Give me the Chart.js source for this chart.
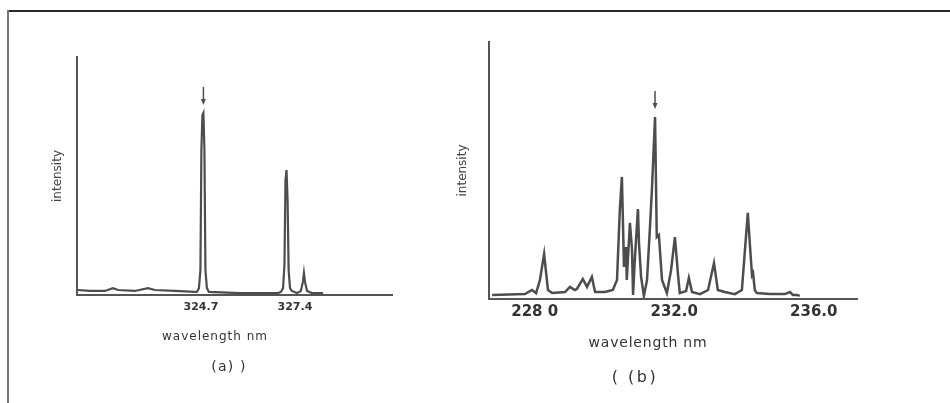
<!DOCTYPE html>
<html>
<head>
<meta charset="utf-8">
<script src="https://cdn.jsdelivr.net/npm/chart.js@4.4.0/dist/chart.umd.min.js"></script>
<style>
  body { margin: 0; background: #fff; }
  #page { position: relative; width: 950px; height: 403px; overflow: hidden; background: #fff; }
  .rule-top { position: absolute; left: 7px; top: 10px; width: 943px; height: 2px; background: #2a2a2a; }
  .rule-left { position: absolute; left: 7px; top: 10px; width: 2px; height: 393px; background: #777; }
  canvas { position: absolute; top: 0; }
  #specA { left: 0; }
  #specB { left: 430px; }
</style>
</head>
<body>
<div id="page">
  <div class="rule-top"></div>
  <div class="rule-left"></div>
  <canvas id="specA" width="430" height="403"></canvas>
  <canvas id="specB" width="520" height="403"></canvas>
</div>
<script>
// (a) copper lines, nm / relative intensity
const wavelengthA = [321.17, 321.51, 321.94, 322.17, 322.32, 322.80, 323.18, 323.38, 323.95, 324.53,
  324.585, 324.643, 324.686, 324.714, 324.743, 324.772, 324.801, 324.830, 324.872, 324.930,
  325.82, 326.91, 327.00, 327.06, 327.10, 327.13, 327.16, 327.19, 327.22, 327.26,
  327.31, 327.46, 327.57, 327.63, 327.66, 327.69, 327.75, 327.89, 328.21];
const intensityA = [2.1, 1.7, 1.7, 2.9, 2.1, 1.7, 2.9, 2.1, 1.7, 1.3,
  1.3, 2.9, 10.5, 60.9, 75.6, 76.5, 60.9, 10.5, 2.9, 1.3,
  0.8, 0.8, 1.3, 2.9, 12.6, 48.3, 52.5, 39.9, 10.5, 2.9,
  1.7, 0.8, 1.7, 5.5, 9.2, 5.5, 1.7, 0.8, 0.8];
const ticksA = [324.7, 327.4];

// (b) nickel region
const wavelengthB = [226.78, 227.72, 227.92, 228.04, 228.15, 228.27, 228.38, 228.50, 228.87, 229.01,
  229.15, 229.21, 229.38, 229.50, 229.64, 229.73, 230.01, 230.24, 230.36, 230.44,
  230.50, 230.56, 230.62, 230.64, 230.73, 230.79, 230.82, 230.87, 230.96, 230.99,
  231.05, 231.13, 231.22, 231.30, 231.36, 231.45, 231.50, 231.56, 231.65, 231.79,
  231.91, 232.02, 232.11, 232.16, 232.34, 232.42, 232.51, 232.74, 232.97, 233.14,
  233.25, 233.45, 233.74, 233.94, 234.05, 234.11, 234.17, 234.23, 234.26, 234.31,
  234.37, 234.74, 235.17, 235.32, 235.40, 235.52, 235.60];
const intensityB = [1.6, 1.9, 3.5, 2.3, 7.4, 17.5, 3.5, 2.3, 2.7, 4.7,
  3.5, 3.9, 7.8, 4.7, 8.6, 2.7, 2.7, 3.5, 7.4, 34.6,
  47.5, 12.5, 20.2, 7.4, 29.6, 19.1, 1.6, 15.2, 35.0, 21.8,
  8.6, 1.2, 7.4, 26.8, 42.4, 70.8, 24.1, 24.9, 7.4, 2.3,
  11.3, 24.1, 9.3, 2.3, 3.1, 8.2, 2.7, 1.9, 3.5, 14.0,
  3.5, 2.7, 1.9, 3.5, 23.0, 33.5, 21.0, 9.3, 10.1, 3.5,
  2.3, 1.9, 1.9, 2.7, 1.6, 1.6, 1.2];
const ticksB = [228, 232, 236];
const tickLabelsB = ['228 0', '232.0', '236.0'];

const lineColor = '#4d4d4d';
const axisColor = '#555';

function toPoints(xs, ys) {
  return xs.map((x, i) => ({ x: x, y: ys[i] }));
}

// small down arrow over the strongest line
const arrowPlugin = {
  id: 'peakArrow',
  afterDatasetsDraw(chart) {
    const pts = chart.getDatasetMeta(0).data;
    let top = pts[0];
    pts.forEach(p => { if (p.y < top.y) top = p; });
    const c = chart.ctx;
    const y0 = top.y - 26, y1 = top.y - 8;
    c.save();
    c.strokeStyle = lineColor;
    c.fillStyle = lineColor;
    c.lineWidth = 1.5;
    c.beginPath();
    c.moveTo(top.x, y0);
    c.lineTo(top.x, y1 - 4);
    c.stroke();
    c.beginPath();
    c.moveTo(top.x - 2.5, y1 - 6);
    c.lineTo(top.x + 2.5, y1 - 6);
    c.lineTo(top.x, y1);
    c.closePath();
    c.fill();
    c.restore();
  }
};

function captions(lines) {
  return {
    id: 'captions',
    afterDraw(chart) {
      const c = chart.ctx;
      c.save();
      c.fillStyle = '#333';
      c.textAlign = 'center';
      c.textBaseline = 'middle';
      lines.forEach(l => {
        c.font = l.size + 'px "DejaVu Sans"';
        c.letterSpacing = (l.spacing || 0) + 'px';
        c.fillText(l.text, l.x, l.y);
      });
      c.restore();
    }
  };
}

function spectrum(id, xs, ys, o) {
  return new Chart(document.getElementById(id), {
    type: 'line',
    data: {
      datasets: [{
        data: toPoints(xs, ys),
        borderColor: lineColor,
        borderWidth: o.lineWidth,
        pointRadius: 0,
        tension: 0,
        fill: false
      }]
    },
    options: {
      responsive: false,
      animation: false,
      layout: { padding: o.padding },
      plugins: { legend: { display: false }, tooltip: { enabled: false } },
      scales: {
        x: {
          type: 'linear',
          min: o.xMin,
          max: o.xMax,
          afterFit: s => { s.height = o.xHeight; },
          afterBuildTicks: s => { s.ticks = o.ticks.map(v => ({ value: v })); },
          grid: { display: false, drawTicks: false },
          border: { display: true, color: axisColor, width: 2 },
          ticks: {
            padding: o.tickPad,
            color: '#333',
            font: { family: 'DejaVu Sans', size: o.tickSize, weight: 'bold' },
            maxRotation: 0,
            autoSkip: false,
            callback: o.tickLabel
          }
        },
        y: {
          min: 0,
          max: 100,
          afterFit: s => { s.width = o.yWidth; },
          grid: { display: false, drawTicks: false },
          border: { display: true, color: axisColor, width: 2 },
          ticks: { display: false },
          title: {
            display: true,
            text: 'intensity',
            color: '#444',
            font: { family: 'DejaVu Sans', size: 12 },
            padding: { top: o.titlePad, bottom: 0 }
          }
        }
      }
    },
    plugins: [arrowPlugin, captions(o.captions)]
  });
}

spectrum('specA', wavelengthA, intensityA, {
  padding: { top: 57, right: 38, left: 0, bottom: 0 },
  xHeight: 108, yWidth: 77,
  xMin: 321.14, xMax: 330.19,
  lineWidth: 2.2,
  ticks: ticksA, tickPad: 6, tickSize: 11,
  tickLabel: v => Number(v).toFixed(1),
  titlePad: 51,
  captions: [
    { text: 'wavelength nm', x: 215, y: 337, size: 12, spacing: 1 },
    { text: '(a) )', x: 229, y: 367, size: 14, spacing: 1.2 }
  ]
});

spectrum('specB', wavelengthB, intensityB, {
  padding: { top: 42, right: 93, left: 0, bottom: 0 },
  xHeight: 104, yWidth: 59,
  xMin: 226.69, xMax: 237.24,
  lineWidth: 2.5,
  ticks: ticksB, tickPad: 4, tickSize: 15,
  tickLabel: (v, i) => tickLabelsB[i],
  titlePad: 26,
  captions: [
    { text: 'wavelength nm', x: 218, y: 343, size: 14, spacing: 0.8 },
    { text: '( (b)', x: 205, y: 378, size: 16, spacing: 2.5 }
  ]
});
</script>
</body>
</html>
